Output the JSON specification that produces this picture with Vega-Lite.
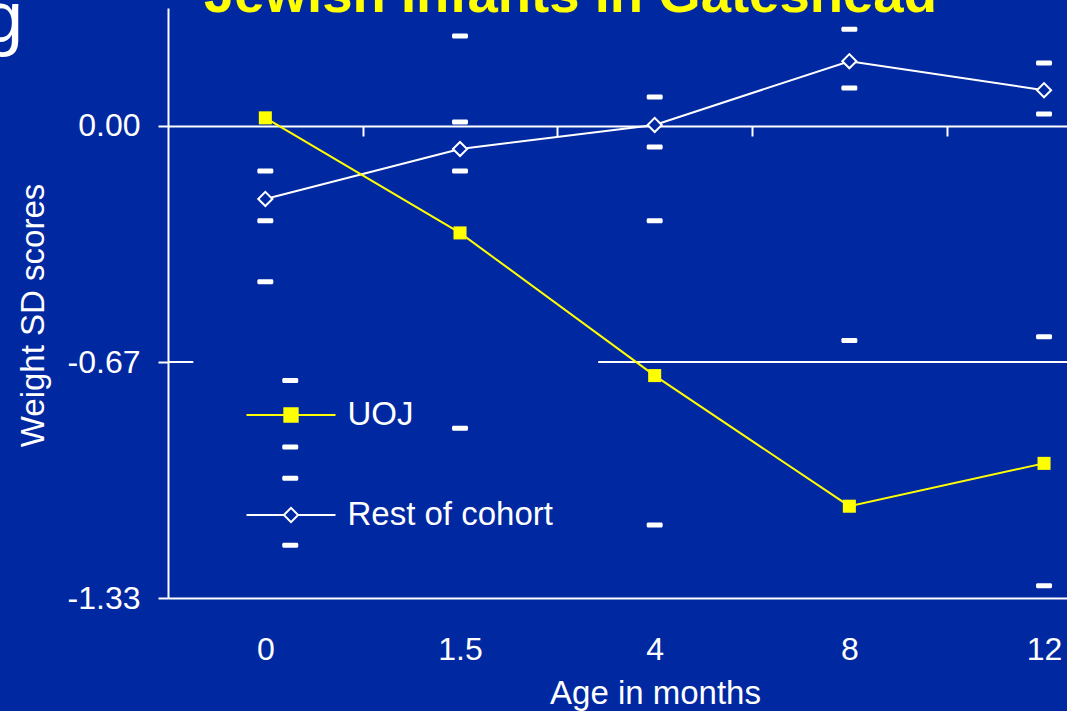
{
  "$schema": "https://vega.github.io/schema/vega-lite/v6.json",
  "width": 899,
  "height": 590,
  "autosize": {"type": "none"},
  "padding": {"left": 168, "top": 8, "right": 0, "bottom": 113},
  "background": "#0028A0",
  "title": {
    "text": "Jewish Infants in Gateshead",
    "anchor": "start",
    "frame": "group",
    "dx": 36,
    "dy": 83,
    "baseline": "alphabetic",
    "offset": 0,
    "font": "Liberation Sans",
    "fontSize": 54.5,
    "fontWeight": "bold",
    "color": "#FFFF00"
  },
  "config": {"view": {"stroke": null}, "font": "Liberation Sans"},
  "datasets": {
    "scores": [
      {"series": "UOJ", "age": "0", "pos": 0, "sd": 0.023},
      {"series": "UOJ", "age": "1.5", "pos": 1, "sd": -0.302},
      {"series": "UOJ", "age": "4", "pos": 2, "sd": -0.705},
      {"series": "UOJ", "age": "8", "pos": 3, "sd": -1.074},
      {"series": "UOJ", "age": "12", "pos": 4, "sd": -0.953},
      {"series": "Rest of cohort", "age": "0", "pos": 0, "sd": -0.206},
      {"series": "Rest of cohort", "age": "1.5", "pos": 1, "sd": -0.065},
      {"series": "Rest of cohort", "age": "4", "pos": 2, "sd": 0.003},
      {"series": "Rest of cohort", "age": "8", "pos": 3, "sd": 0.183},
      {"series": "Rest of cohort", "age": "12", "pos": 4, "sd": 0.101}
    ],
    "ranges": [
      {"pos": 0, "sd": -0.127}, {"pos": 0, "sd": -0.268}, {"pos": 0, "sd": -0.44},
      {"pos": 0.128, "sd": -0.719}, {"pos": 0.128, "sd": -0.907}, {"pos": 0.128, "sd": -0.995}, {"pos": 0.128, "sd": -1.184},
      {"pos": 1, "sd": 0.254}, {"pos": 1, "sd": 0.011}, {"pos": 1, "sd": -0.127}, {"pos": 1, "sd": -0.854},
      {"pos": 2, "sd": 0.082}, {"pos": 2, "sd": -0.059}, {"pos": 2, "sd": -0.268}, {"pos": 2, "sd": -1.127},
      {"pos": 3, "sd": 0.273}, {"pos": 3, "sd": 0.107}, {"pos": 3, "sd": -0.606},
      {"pos": 4, "sd": 0.178}, {"pos": 4, "sd": 0.034}, {"pos": 4, "sd": -0.595}, {"pos": 4, "sd": -1.299}
    ],
    "grid": [
      {"sd": -0.6667, "from": -0.5, "to": -0.37},
      {"sd": -0.6667, "from": 1.71, "to": 4.118}
    ],
    "fragment": [
      {"text": "g", "pos": -1.45, "sd": 0.238}
    ]
  },
  "layer": [
    {
      "data": {"name": "grid"},
      "mark": {"type": "rule", "color": "#FFFFFF", "strokeWidth": 2},
      "encoding": {
        "x": {
          "field": "from", "type": "quantitative",
          "scale": {"domain": [-0.5, 4.118], "nice": false, "zero": false},
          "axis": {
            "orient": "bottom",
            "values": [0, 1, 2, 3, 4],
            "labelExpr": "['0','1.5','4','8','12'][datum.value]",
            "ticks": false,
            "tickSize": 0,
            "domain": true,
            "domainColor": "#FFFFFF",
            "domainWidth": 2,
            "grid": false,
            "labelFont": "Liberation Sans",
            "labelFontSize": 32,
            "labelColor": "#FFFFFF",
            "labelPadding": 36,
            "labelFlush": false,
            "labelOverlap": false,
            "title": "Age in months",
            "titleFont": "Liberation Sans",
            "titleFontSize": 33,
            "titleFontWeight": "normal",
            "titleColor": "#FFFFFF",
            "titleX": 487,
            "titleY": 105,
            "titleBaseline": "alphabetic",
            "titleAlign": "center"
          }
        },
        "x2": {"field": "to"},
        "y": {
          "field": "sd", "type": "quantitative",
          "scale": {"domain": [-1.3333, 0.3333], "nice": false, "zero": false},
          "axis": {
            "orient": "left",
            "values": [0, -0.6667, -1.3333],
            "labelExpr": "datum.value > -0.3 ? '0.00' : datum.value > -1 ? '-0.67' : '-1.33'",
            "grid": false,
            "domain": true,
            "ticks": true,
            "labels": true,
            "domainColor": "#FFFFFF",
            "domainWidth": 2,
            "tickColor": "#FFFFFF",
            "tickWidth": 2,
            "tickSize": 10,
            "labelFont": "Liberation Sans",
            "labelFontSize": 32,
            "labelColor": "#FFFFFF",
            "labelPadding": 18,
            "labelFlush": false,
            "labelOverlap": false,
            "title": "Weight SD scores",
            "titleFont": "Liberation Sans",
            "titleFontSize": 33,
            "titleFontWeight": "normal",
            "titleColor": "#FFFFFF",
            "titleX": -125,
            "titleY": 307,
            "titleBaseline": "alphabetic",
            "titleAlign": "center",
            "titleAngle": -90
          }
        }
      }
    },
    {
      "data": {"name": "ranges"},
      "mark": {"type": "tick", "orient": "horizontal", "color": "#FFFFFF", "size": 16, "thickness": 5, "cornerRadius": 1.5, "opacity": 1},
      "encoding": {
        "x": {"field": "pos", "type": "quantitative", "axis": null},
        "y": {"field": "sd", "type": "quantitative"}
      }
    },
    {
      "data": {"name": "scores"},
      "transform": [{"filter": "datum.series == 'Rest of cohort'"}],
      "mark": {"type": "line", "color": "#FFFFFF", "strokeWidth": 2},
      "encoding": {
        "x": {"field": "pos", "type": "quantitative", "axis": null},
        "y": {"field": "sd", "type": "quantitative"}
      }
    },
    {
      "data": {"name": "scores"},
      "transform": [{"filter": "datum.series == 'UOJ'"}],
      "mark": {"type": "line", "color": "#FFFF00", "strokeWidth": 2},
      "encoding": {
        "x": {"field": "pos", "type": "quantitative", "axis": null},
        "y": {"field": "sd", "type": "quantitative"}
      }
    },
    {
      "data": {"name": "scores"},
      "transform": [{"filter": "datum.series == 'Rest of cohort'"}],
      "mark": {"type": "point", "shape": "diamond", "size": 200, "filled": true, "fill": "#0028A0", "stroke": "#FFFFFF", "strokeWidth": 2, "opacity": 1},
      "encoding": {
        "x": {"field": "pos", "type": "quantitative", "axis": null},
        "y": {"field": "sd", "type": "quantitative"}
      }
    },
    {
      "data": {"name": "scores"},
      "transform": [{"filter": "datum.series == 'UOJ'"}],
      "mark": {"type": "point", "shape": "square", "size": 170, "filled": true, "color": "#FFFF00", "opacity": 1},
      "encoding": {
        "x": {
          "field": "pos", "type": "quantitative",
          "axis": {
            "orient": "bottom",
            "offset": -472,
            "values": [0.5, 1.5, 2.5, 3.5],
            "labels": false,
            "ticks": true,
            "tickSize": 10,
            "tickColor": "#FFFFFF",
            "tickWidth": 2,
            "domain": true,
            "domainColor": "#FFFFFF",
            "domainWidth": 2,
            "grid": false,
            "title": null
          }
        },
        "y": {"field": "sd", "type": "quantitative"}
      }
    },
    {
      "data": {"name": "fragment"},
      "mark": {"type": "text", "font": "Liberation Sans", "fontSize": 72, "color": "#FFFFFF", "align": "left", "baseline": "alphabetic"},
      "encoding": {
        "x": {"field": "pos", "type": "quantitative", "axis": null},
        "y": {"field": "sd", "type": "quantitative"},
        "text": {"field": "text"}
      }
    },
    {
      "data": {"name": "scores"},
      "transform": [{"filter": "false"}],
      "mark": {"type": "point", "size": 7921, "strokeWidth": 2, "opacity": 1},
      "encoding": {
        "shape": {
          "field": "series", "type": "nominal",
          "scale": {
            "domain": ["UOJ", "Rest of cohort"],
            "range": [
              "M-1,0H1M-0.15,-0.15H0.15V0.15H-0.15Z",
              "M-1,0H-0.16M0.16,0H1M-0.16,0L0,-0.16L0.16,0L0,0.16Z"
            ]
          },
          "legend": {
            "title": null,
            "orient": "none",
            "legendX": 77.5,
            "legendY": 361.5,
            "padding": 0,
            "symbolSize": 7921,
            "symbolStrokeWidth": 2,
            "labelFont": "Liberation Sans",
            "labelFontSize": 33,
            "labelColor": "#FFFFFF",
            "labelOffset": 11,
            "labelLimit": 500,
            "rowPadding": 37
          }
        },
        "fill": {
          "field": "series", "type": "nominal",
          "scale": {"domain": ["UOJ", "Rest of cohort"], "range": ["#FFFF00", "#0028A0"]}
        },
        "stroke": {
          "field": "series", "type": "nominal",
          "scale": {"domain": ["UOJ", "Rest of cohort"], "range": ["#FFFF00", "#FFFFFF"]}
        }
      }
    }
  ],
  "resolve": {"axis": {"x": "independent", "y": "shared"}}
}
